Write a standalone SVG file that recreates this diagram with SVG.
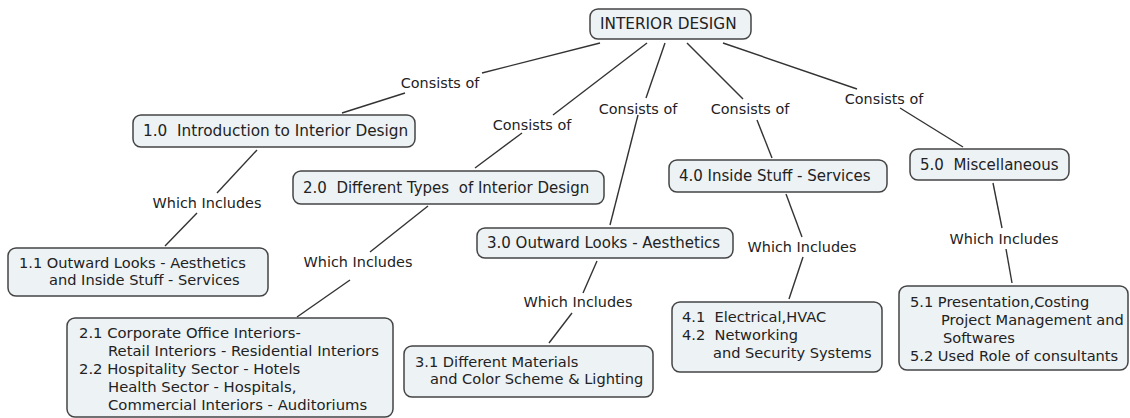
<svg xmlns="http://www.w3.org/2000/svg" width="1130" height="418" viewBox="0 0 1130 418">
<style>
.box{fill:#edf2f5;stroke:#444;stroke-width:1.5}
text{font-family:"DejaVu Sans",Verdana,sans-serif;font-size:15px;fill:#222}
.big{font-size:15.3px}
.sm{font-size:14.6px}
.lbl{text-anchor:middle;font-size:14.4px}
.c line{stroke:#333;stroke-width:1.4}
</style>
<rect width="1130" height="418" fill="#fff"/>
<g class="c" id="connectors">
<line x1="600" y1="43" x2="482" y2="73"/><line x1="405" y1="93" x2="342" y2="113"/>
<line x1="647" y1="43" x2="553" y2="115"/><line x1="522" y1="133" x2="475" y2="168"/>
<line x1="665" y1="43" x2="646" y2="98"/><line x1="638" y1="115" x2="610" y2="225"/>
<line x1="687" y1="43" x2="743" y2="99"/><line x1="757" y1="120" x2="772" y2="158"/>
<line x1="723" y1="43" x2="857" y2="89"/><line x1="900" y1="108" x2="963" y2="147"/>
<line x1="257" y1="150" x2="217" y2="193"/><line x1="197" y1="213" x2="165" y2="246"/>
<line x1="428" y1="206" x2="370" y2="252"/><line x1="350" y1="280" x2="297" y2="317"/>
<line x1="597" y1="261" x2="583" y2="293"/><line x1="572" y1="313" x2="549" y2="343"/>
<line x1="786" y1="194" x2="802" y2="237"/><line x1="803" y1="257" x2="789" y2="299"/>
<line x1="993" y1="183" x2="1002" y2="228"/><line x1="1006" y1="249" x2="1012" y2="283"/>
<text class="lbl" x="440" y="88">Consists of</text>
<text class="lbl" x="532" y="130">Consists of</text>
<text class="lbl" x="638" y="114">Consists of</text>
<text class="lbl" x="750" y="114">Consists of</text>
<text class="lbl" x="884" y="104">Consists of</text>
<text class="lbl" x="207" y="208">Which Includes</text>
<text class="lbl" x="358" y="267">Which Includes</text>
<text class="lbl" x="578" y="307">Which Includes</text>
<text class="lbl" x="802" y="252">Which Includes</text>
<text class="lbl" x="1004" y="244">Which Includes</text>
</g>
<g id="root"><rect class="box" x="590" y="9" width="161" height="30" rx="8"/><text class="big" x="600" y="29">INTERIOR DESIGN</text></g>
<g id="n1"><rect class="box" x="133" y="115" width="282" height="32" rx="8"/><text class="big" x="143" y="136" xml:space="preserve">1.0  Introduction to Interior Design</text></g>
<g id="n2"><rect class="box" x="293" y="171" width="311" height="33" rx="8"/><text x="303" y="193" xml:space="preserve">2.0  Different Types  of Interior Design</text></g>
<g id="n3"><rect class="box" x="477" y="228" width="256" height="30" rx="8"/><text x="487" y="248">3.0 Outward Looks - Aesthetics</text></g>
<g id="n4"><rect class="box" x="669" y="160" width="218" height="32" rx="8"/><text x="679" y="181">4.0 Inside Stuff - Services</text></g>
<g id="n5"><rect class="box" x="910" y="149" width="159" height="31" rx="8"/><text x="920" y="170" xml:space="preserve">5.0  Miscellaneous</text></g>
<g id="n11" class="sm"><rect class="box" x="8" y="248" width="260" height="48" rx="8"/><text class="sm" x="19" y="268">1.1 Outward Looks - Aesthetics</text><text class="sm" x="49" y="285">and Inside Stuff - Services</text></g>
<g id="n21"><rect class="box" x="67" y="318" width="326" height="99" rx="8"/>
<text style="font-size:14.8px" x="79" y="338">2.1 Corporate Office Interiors-</text>
<text style="font-size:14.8px" x="108" y="356">Retail Interiors - Residential Interiors</text>
<text style="font-size:14.8px" x="79" y="374">2.2 Hospitality Sector - Hotels</text>
<text style="font-size:14.8px" x="108" y="392">Health Sector - Hospitals,</text>
<text style="font-size:14.8px" x="108" y="410">Commercial Interiors - Auditoriums</text></g>
<g id="n31"><rect class="box" x="404" y="346" width="249" height="51" rx="8"/><text class="sm" x="415" y="367">3.1 Different Materials</text><text class="sm" x="430" y="384">and Color Scheme &amp; Lighting</text></g>
<g id="n41"><rect class="box" x="672" y="302" width="210" height="70" rx="8"/>
<text class="sm" x="682" y="322" xml:space="preserve">4.1  Electrical,HVAC</text>
<text class="sm" x="682" y="340" xml:space="preserve">4.2  Networking</text>
<text class="sm" x="713" y="358">and Security Systems</text></g>
<g id="n51"><rect class="box" x="899" y="286" width="229" height="84" rx="8"/>
<text class="sm" x="910" y="307">5.1 Presentation,Costing</text>
<text class="sm" x="941" y="325">Project Management and</text>
<text class="sm" x="943" y="343">Softwares</text>
<text class="sm" x="910" y="361">5.2 Used Role of consultants</text></g>
</svg>
